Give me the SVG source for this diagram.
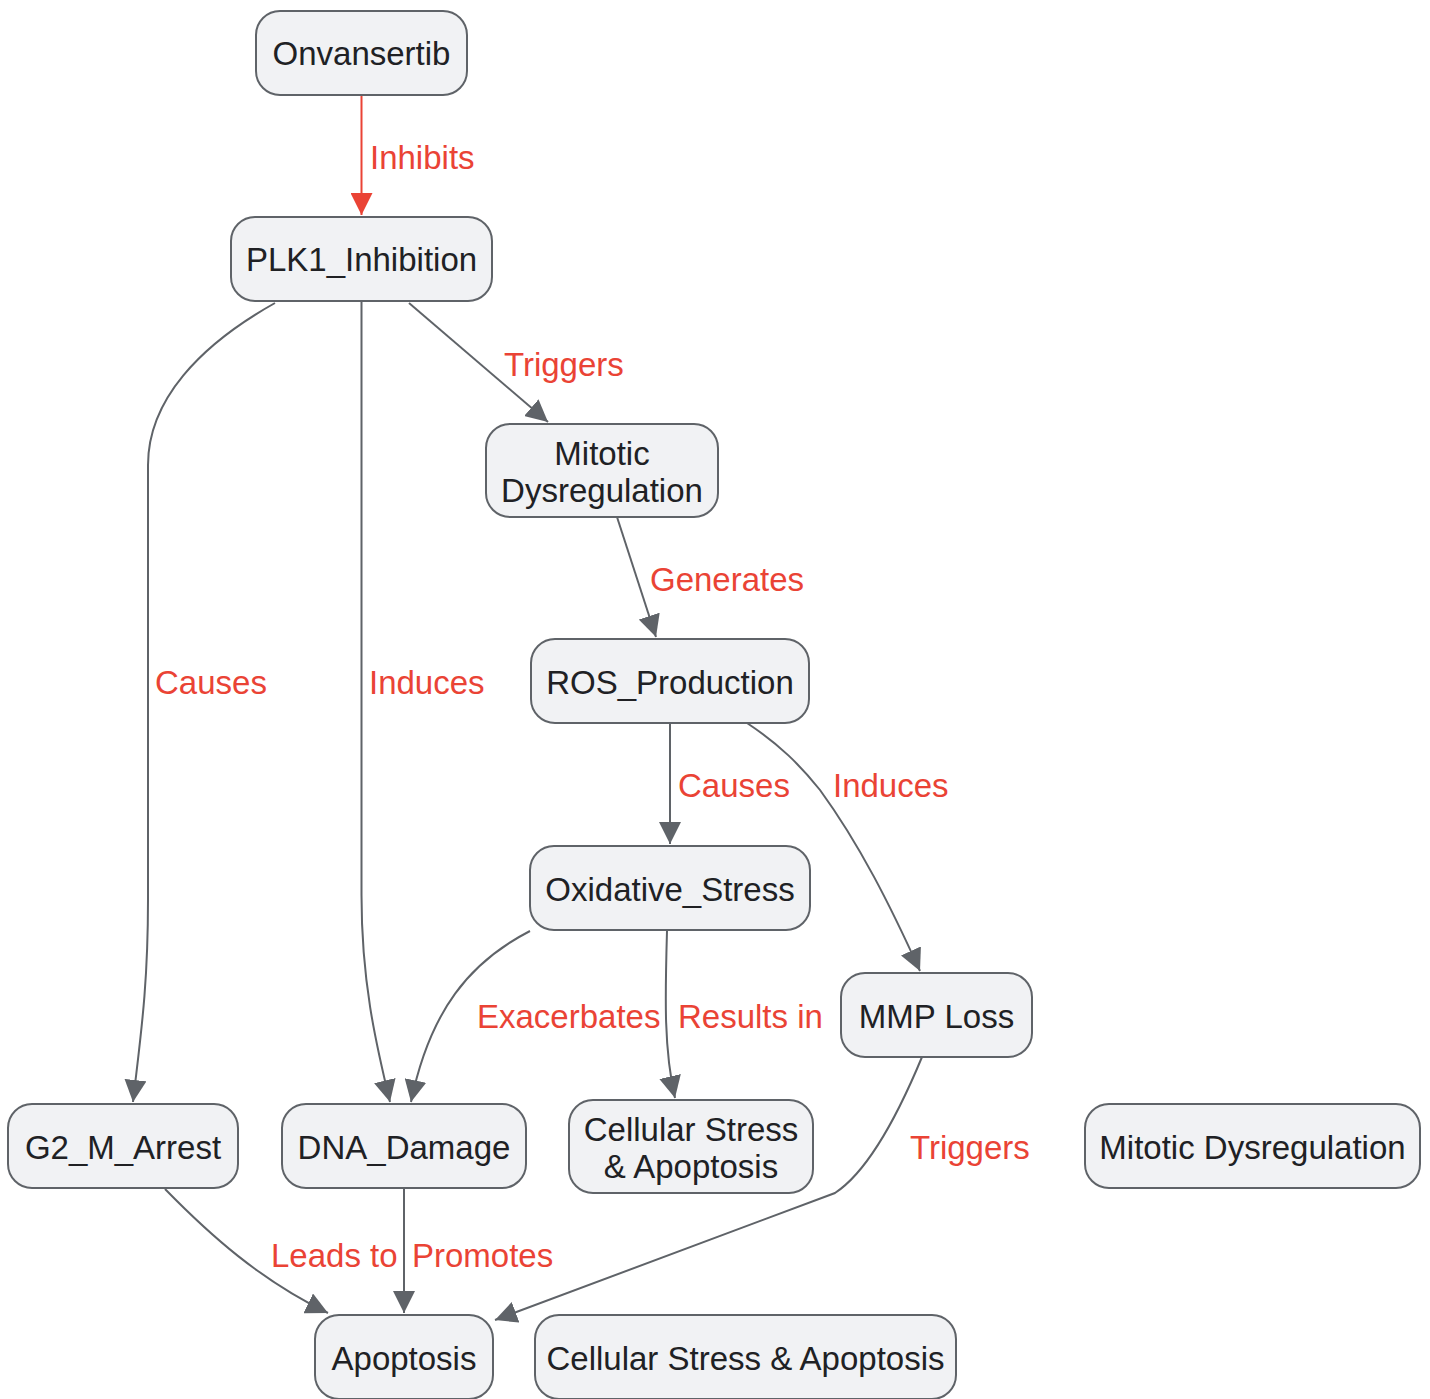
<svg xmlns="http://www.w3.org/2000/svg" width="1430" height="1399" viewBox="0 0 1430 1399">
<defs>
<style>
.node rect{fill:#f1f2f4;stroke:#5f6368;stroke-width:2}
.node text{font-family:"Liberation Sans",Arial,sans-serif;font-size:33px;fill:#202124;text-anchor:middle}
.edge{fill:none;stroke:#5f6368;stroke-width:2}
.edge.red{stroke:#ea4335}
.lbl{font-family:"Liberation Sans",Arial,sans-serif;font-size:33px;fill:#ea4335}
</style>
<marker id="ah" viewBox="0 0 10 10" refX="10" refY="5" markerUnits="userSpaceOnUse" markerWidth="22" markerHeight="22" orient="auto"><path d="M0,0 L10,5 L0,10 z" fill="#5f6368"/></marker>
<marker id="ahr" viewBox="0 0 10 10" refX="10" refY="5" markerUnits="userSpaceOnUse" markerWidth="22" markerHeight="22" orient="auto"><path d="M0,0 L10,5 L0,10 z" fill="#ea4335"/></marker>
</defs>
<rect width="1430" height="1399" fill="#ffffff"/>
<g id="edges">
<path class="edge red" d="M361.5,95 L361.5,215" marker-end="url(#ahr)"/>
<path class="edge" d="M275,303 C200,345 148,400 148,465 L148,900 C148,990 140,1040 133,1102" marker-end="url(#ah)"/>
<path class="edge" d="M361.5,301 L361.5,895 C361.5,980 375,1040 390,1102" marker-end="url(#ah)"/>
<path class="edge" d="M409,303 L548,422" marker-end="url(#ah)"/>
<path class="edge" d="M617,517 L656,637" marker-end="url(#ah)"/>
<path class="edge" d="M670,723 L670,844" marker-end="url(#ah)"/>
<path class="edge" d="M747,723 C780,745 800,765 820,790 C860,845 890,905 920,971" marker-end="url(#ah)"/>
<path class="edge" d="M530,931 C470,962 430,1010 411,1102" marker-end="url(#ah)"/>
<path class="edge" d="M667,931 C665,1000 664,1050 675,1098" marker-end="url(#ah)"/>
<path class="edge" d="M922,1057 C900,1110 870,1170 835,1193 L495,1320" marker-end="url(#ah)"/>
<path class="edge" d="M165,1189 C210,1235 260,1280 328,1313" marker-end="url(#ah)"/>
<path class="edge" d="M404,1189 L404,1313" marker-end="url(#ah)"/>
<text class="lbl" x="370" y="169">Inhibits</text>
<text class="lbl" x="155" y="694">Causes</text>
<text class="lbl" x="369" y="694">Induces</text>
<text class="lbl" x="504" y="376">Triggers</text>
<text class="lbl" x="650" y="591">Generates</text>
<text class="lbl" x="678" y="797">Causes</text>
<text class="lbl" x="833" y="797">Induces</text>
<text class="lbl" x="477" y="1028">Exacerbates</text>
<text class="lbl" x="678" y="1028">Results in</text>
<text class="lbl" x="910" y="1159">Triggers</text>
<text class="lbl" x="271" y="1267">Leads to</text>
<text class="lbl" x="412" y="1267">Promotes</text>
</g>
<g id="n-onvansertib" class="node"><rect x="256" y="11" width="211" height="84" rx="24"/><text x="361.5" y="65">Onvansertib</text></g>
<g id="n-plk1" class="node"><rect x="231" y="217" width="261" height="84" rx="24"/><text x="361.5" y="271">PLK1_Inhibition</text></g>
<g id="n-mitotic" class="node"><rect x="486" y="424" width="232" height="93" rx="24"/><text x="602" y="465">Mitotic</text><text x="602" y="502">Dysregulation</text></g>
<g id="n-ros" class="node"><rect x="531" y="639" width="278" height="84" rx="24"/><text x="670" y="694">ROS_Production</text></g>
<g id="n-oxidative" class="node"><rect x="530" y="846" width="280" height="84" rx="24"/><text x="670" y="901">Oxidative_Stress</text></g>
<g id="n-mmp" class="node"><rect x="841" y="973" width="191" height="84" rx="24"/><text x="936.5" y="1028">MMP Loss</text></g>
<g id="n-g2m" class="node"><rect x="8" y="1104" width="230" height="84" rx="24"/><text x="123" y="1159">G2_M_Arrest</text></g>
<g id="n-dna" class="node"><rect x="282" y="1104" width="244" height="84" rx="24"/><text x="404" y="1159">DNA_Damage</text></g>
<g id="n-cellstress2" class="node"><rect x="569" y="1100" width="244" height="93" rx="24"/><text x="691" y="1141">Cellular Stress</text><text x="691" y="1178">&amp; Apoptosis</text></g>
<g id="n-mitotic2" class="node"><rect x="1085" y="1104" width="335" height="84" rx="24"/><text x="1252.5" y="1159">Mitotic Dysregulation</text></g>
<g id="n-apoptosis" class="node"><rect x="315" y="1315" width="178" height="84" rx="24"/><text x="404" y="1370">Apoptosis</text></g>
<g id="n-cellstress" class="node"><rect x="535" y="1315" width="421" height="84" rx="24"/><text x="745.5" y="1370">Cellular Stress &amp; Apoptosis</text></g>
</svg>
